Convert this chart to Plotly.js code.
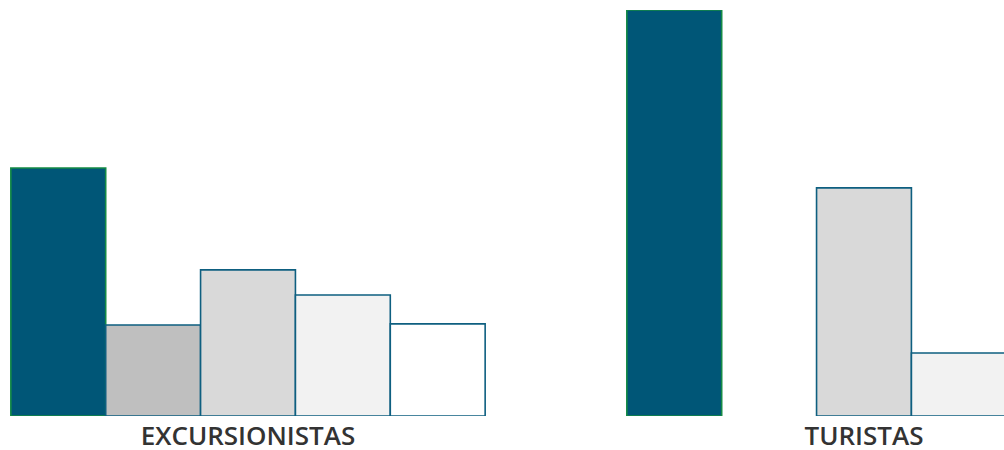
<!DOCTYPE html>
<html>
<head>
<meta charset="utf-8">
<script src="https://cdn.plot.ly/plotly-3.0.1.min.js"></script>
<style>
html,body{margin:0;padding:0;background:#fff;}
#chart{width:1004px;height:450px;}
</style>
</head>
<body>
<div id="chart"></div>
<script>
const categories = ["EXCURSIONISTAS", "TURISTAS"];
const seriesA = [61.1, 100.0];
const seriesB = [22.4, null];
const seriesC = [36.0, 56.2];
const seriesD = [29.8, 15.5];
const seriesE = [22.7, 10.0];

const fills = ["#005677", "#bfbfbf", "#d9d9d9", "#f2f2f2", "#ffffff"];
const lines = ["#138a45", "#0e5f80", "#0e5f80", "#0e5f80", "#0e5f80"];
const series = [seriesA, seriesB, seriesC, seriesD, seriesE];

const traces = series.map((vals, i) => ({
  type: "bar",
  x: categories,
  y: vals,
  marker: {color: fills[i], line: {color: lines[i], width: 1.6}},
  hoverinfo: "skip",
  showlegend: false
}));

const layout = {
  width: 1004,
  height: 450,
  margin: {l: 0, r: 0, t: 10, b: 34, pad: 0},
  paper_bgcolor: "#ffffff",
  plot_bgcolor: "#ffffff",
  barmode: "group",
  bargap: 0.23,
  bargroupgap: 0,
  xaxis: {
    type: "category",
    range: [-0.4026, 1.2273],
    showgrid: false,
    zeroline: false,
    showline: false,
    ticks: "",
    ticklabelstandoff: 2,
    tickfont: {family: "Open Sans, Noto Sans, sans-serif", size: 26, color: "#333333", weight: 600}
  },
  yaxis: {
    range: [0, 100],
    showgrid: false,
    zeroline: false,
    showline: false,
    showticklabels: false,
    ticks: ""
  }
};

Plotly.newPlot("chart", traces, layout, {displayModeBar: false, staticPlot: true});
</script>
</body>
</html>
